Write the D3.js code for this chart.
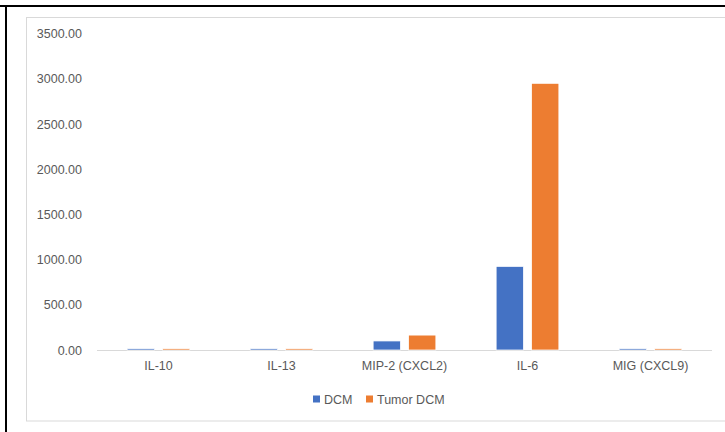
<!DOCTYPE html>
<html>
<head>
<meta charset="utf-8">
<script src="https://cdn.jsdelivr.net/npm/d3@7"></script>
<style>
html, body { margin: 0; padding: 0; background: #fff; }
svg { display: block; }
text { font-family: "Liberation Sans", Arial, sans-serif; fill: #595959; }
</style>
</head>
<body>
<svg id="chart" width="725" height="432"></svg>
<script>
const categories = ["IL-10", "IL-13", "MIP-2 (CXCL2)", "IL-6", "MIG (CXCL9)"];
const seriesNames = ["DCM", "Tumor DCM"];
const dcmValues = [15, 15, 100, 925, 15];
const tumorDcmValues = [15, 15, 165, 2950, 15];
const yTicks = [0, 500, 1000, 1500, 2000, 2500, 3000, 3500];
const colors = ["#4472C4", "#ED7D31"];

const svg = d3.select("#chart");

// outer frame (black left/top edges) and inner chart-area border
svg.append("line").attr("x1", 0).attr("x2", 725).attr("y1", 6).attr("y2", 6)
  .attr("stroke", "#000").attr("stroke-width", 2);
svg.append("line").attr("x1", 6).attr("x2", 6).attr("y1", 5).attr("y2", 432)
  .attr("stroke", "#000").attr("stroke-width", 2);
svg.append("rect").attr("x", 26.5).attr("y", 17.5).attr("width", 710).attr("height", 403.5)
  .attr("fill", "#fff").attr("stroke", "#d9d9d9").attr("stroke-width", 1);

const x0 = d3.scaleBand().domain(categories).range([97, 712]).paddingInner(0.49).paddingOuter(0.245);
const x1 = d3.scaleBand().domain(seriesNames).range([0, x0.bandwidth()]).paddingInner(0.2286);
const y = d3.scaleLinear().domain([0, 3500]).range([350, 33.6]);

// y axis labels
const yAxis = d3.axisLeft(y).tickValues(yTicks).tickFormat(d3.format(".2f")).tickSize(0).tickPadding(0);
const yg = svg.append("g").attr("transform", "translate(82,0)").call(yAxis);
yg.select(".domain").remove();
yg.selectAll("text").style("font-size", "12.5px").attr("fill", "#595959").attr("font-family", null);

// baseline
svg.append("line").attr("x1", 97).attr("x2", 712).attr("y1", y(0) + 0.5).attr("y2", y(0) + 0.5)
  .attr("stroke", "#d9d9d9").attr("stroke-width", 1);

// bars
const data = categories.map((c, i) => ({ cat: c, vals: [dcmValues[i], tumorDcmValues[i]] }));
const groups = svg.append("g").selectAll("g").data(data).join("g")
  .attr("transform", d => `translate(${x0(d.cat)},0)`);
groups.selectAll("rect").data(d => d.vals.map((v, j) => ({ s: seriesNames[j], v, j })))
  .join("rect")
  .attr("x", d => x1(d.s))
  .attr("width", x1.bandwidth())
  .attr("y", d => y(d.v))
  .attr("height", d => y(0) - y(d.v))
  .attr("fill", d => colors[d.j])
  .attr("stroke", "#fff").attr("stroke-width", 0.75);

// x axis labels
const xAxis = d3.axisBottom(x0).tickSize(0).tickPadding(0);
const xg = svg.append("g").attr("transform", "translate(0,361)").call(xAxis);
xg.select(".domain").remove();
xg.selectAll("text").style("font-size", "12.5px").attr("fill", "#595959").attr("font-family", null);

// legend
const legend = svg.append("g");
const legendItems = [{ name: seriesNames[0], x: 313 }, { name: seriesNames[1], x: 366 }];
legendItems.forEach((it, i) => {
  legend.append("rect").attr("x", it.x).attr("y", 395.5).attr("width", 7).attr("height", 7).attr("fill", colors[i]);
  legend.append("text").attr("x", it.x + 11).attr("y", 403.5).style("font-size", "12.5px").text(it.name);
});
</script>
</body>
</html>
